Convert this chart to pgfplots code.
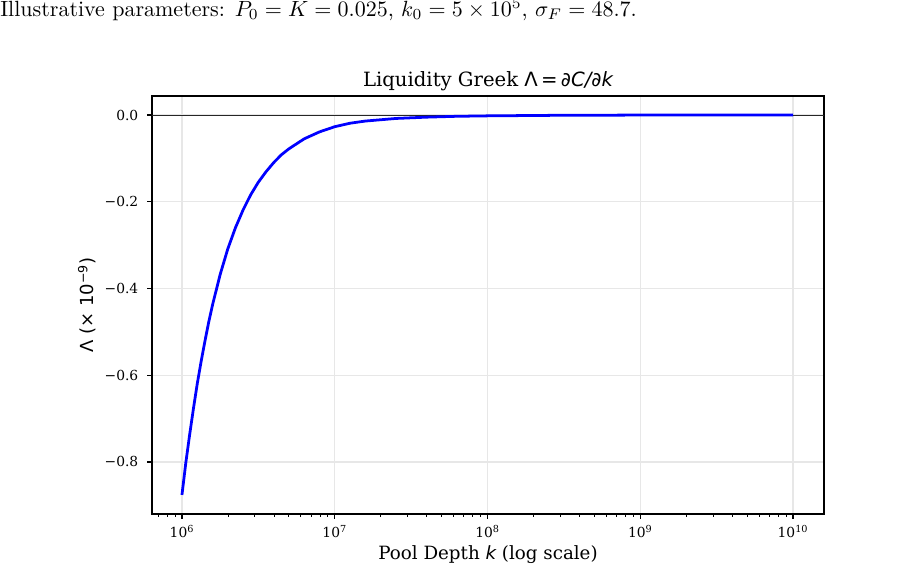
\documentclass[border=0pt]{standalone}
\usepackage{fontspec}
\usepackage{pgfplots}
\pgfplotsset{compat=1.18}
\newfontfamily\djserif{DejaVu Serif}
\newfontfamily\djsans{DejaVu Sans}
\definecolor{gridgray}{RGB}{231,231,231}
\newlength\px
\setlength\px{0.7227pt}

\begin{document}
\begin{tikzpicture}
\path[use as bounding box] (0,0) rectangle (903\px,588\px);
\node[anchor=base west, inner sep=0pt]
  at (0,571.3\px) {\scalebox{1.59}{Illustrative parameters: $P_0 = K = 0.025$, $k_0 = 5\times 10^5$, $\sigma_F = 48.7$.}};
\begin{axis}[
    at={(152\px,74\px)}, anchor=south west,
    scale only axis,
    width=672\px, height=418\px,
    xmode=log,
    xmin=6.368e5, xmax=1.596e10,
    ymin=-0.920, ymax=0.0438,
    xtick={1e6,1e7,1e8,1e9,1e10},
    xticklabels={10\textsuperscript{6},10\textsuperscript{7},10\textsuperscript{8},10\textsuperscript{9},10\textsuperscript{10}},
    minor xtick={7e5,8e5,9e5,2e6,3e6,4e6,5e6,6e6,7e6,8e6,9e6,2e7,3e7,4e7,5e7,6e7,7e7,8e7,9e7,2e8,3e8,4e8,5e8,6e8,7e8,8e8,9e8,2e9,3e9,4e9,5e9,6e9,7e9,8e9,9e9},
    ytick={-0.8,-0.6,-0.4,-0.2,0},
    yticklabels={−0.8,−0.6,−0.4,−0.2,0.0},
    tick pos=left,
    tick align=outside,
    major tick length=3.5pt,
    minor tick length=2pt,
    every tick/.style={black, line width=0.8pt},
    every minor tick/.style={black, line width=0.6pt},
    axis line style={black, line width=0.8pt},
    xmajorgrids, ymajorgrids,
    major grid style={gridgray, line width=0.8pt},
    ticklabel style={font=\djserif\fontsize{10}{12}\selectfont},
    xticklabel style={anchor=base, yshift=-18.9\px},
    yticklabel style={xshift=-4\px},
    every axis title shift=0pt,
    title={\djserif Liquidity Greek {\djsans Λ\,=\,{\itshape ∂C/∂k}}},
    title style={font=\fontsize{14.2}{16}\selectfont, at={(axis description cs:0.5,1.0222)}, anchor=base, inner sep=0pt},
    xlabel={\djserif Pool Depth {\djsans\itshape k} (log scale)},
    xlabel style={font=\fontsize{13.2}{15}\selectfont, at={(axis description cs:0.5,-0.1084)}, anchor=base, inner sep=0pt},
    ylabel={\djsans Λ (× 10\textsuperscript{−9})},
    ylabel style={font=\fontsize{13}{15}\selectfont, at={(axis description cs:-0.0873,0.5)}, anchor=base, inner sep=0pt},
]
\addplot[black!85, line width=0.6pt, forget plot] coordinates {(5e5,0) (3e10,0)};
\addplot[blue, line width=2pt] coordinates {
(1.000e6,-0.876)
(1.059e6,-0.803)
(1.122e6,-0.738)
(1.189e6,-0.677)
(1.259e6,-0.620)
(1.334e6,-0.569)
(1.413e6,-0.522)
(1.496e6,-0.478)
(1.585e6,-0.438)
(1.778e6,-0.368)
(1.995e6,-0.309)
(2.239e6,-0.260)
(2.512e6,-0.219)
(2.818e6,-0.184)
(3.162e6,-0.155)
(3.548e6,-0.131)
(3.981e6,-0.110)
(4.467e6,-0.092)
(5.012e6,-0.078)
(6.310e6,-0.055)
(7.943e6,-0.039)
(1.000e7,-0.027)
(1.259e7,-0.019)
(1.585e7,-0.014)
(2.512e7,-0.008)
(3.981e7,-0.005)
(6.310e7,-0.003)
(1.000e8,-0.002)
(3.162e8,-0.0006)
(1.000e9,-0.0002)
(1.000e10,0.0)
};
\end{axis}
\end{tikzpicture}
\end{document}
